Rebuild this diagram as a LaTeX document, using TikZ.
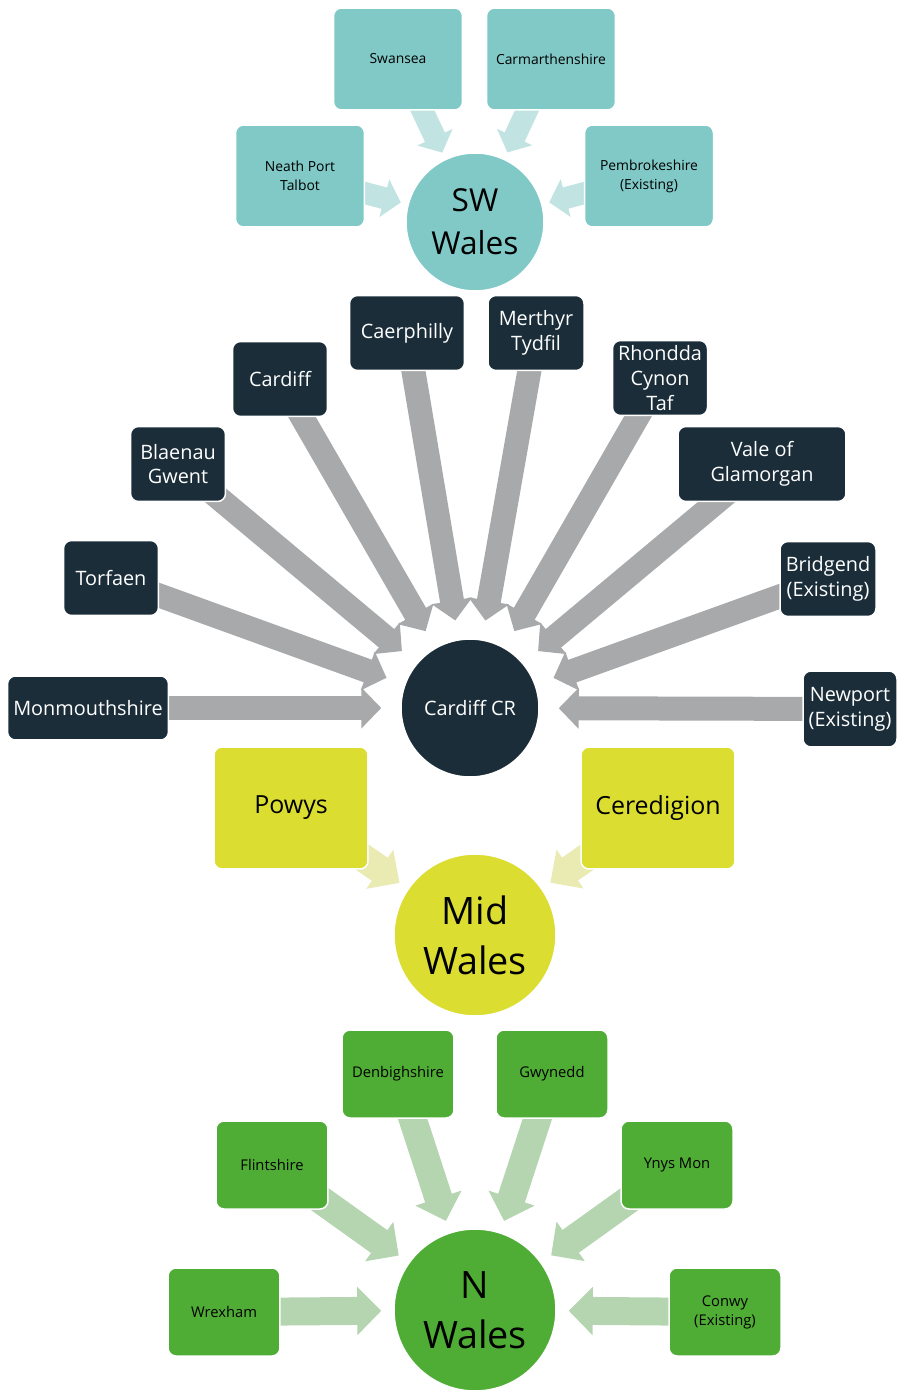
\documentclass[tikz,border=0pt]{standalone}
\usepackage{fontspec}
\setmainfont{Open Sans}
\usetikzlibrary{arrows.meta, backgrounds}
\definecolor{swteal}{RGB}{128,201,199}
\definecolor{swpale}{RGB}{193,227,226}
\definecolor{crnavy}{RGB}{26,45,57}
\definecolor{crgrey}{RGB}{168,169,171}
\definecolor{midlime}{RGB}{220,221,49}
\definecolor{midpale}{RGB}{234,235,179}
\definecolor{ngreen}{RGB}{79,173,53}
\definecolor{npale}{RGB}{180,213,176}
\tikzset{
x=0.02cm, y=-0.02cm, % one unit is one pixel of the sketch, y runs down
box/.style={rectangle, rounded corners=0.16cm, draw=white, line width=0.03cm, align=center, inner sep=0pt}, % every county
hub/.style={circle, draw=white, line width=0.03cm, align=center, inner sep=0pt}, % every region
swbox/.style={box, fill=swteal, minimum width=2.58cm, minimum height=2.04cm, font=\fontsize{7.9}{10.8}\selectfont},
crbox/.style={box, fill=crnavy, text=white, minimum width=1.9cm, minimum height=1.5cm, font=\fontsize{11.3}{14}\selectfont},
midbox/.style={box, fill=midlime, minimum width=3.08cm, minimum height=2.44cm, font=\fontsize{14.2}{18}\selectfont},
nbox/.style={box, fill=ngreen, minimum width=2.24cm, minimum height=1.76cm, font=\fontsize{8.4}{10.8}\selectfont},
swarrow/.style={swpale, line width=0.44cm, -{Triangle[length=0.34cm, width=0.76cm]}, shorten >=0.14cm},
crarrow/.style={crgrey, line width=0.48cm, -{Triangle[length=0.4cm, width=0.8cm]}, shorten >=0.38cm},
midarrow/.style={midpale, line width=0.56cm, -{Triangle[length=0.48cm, width=0.92cm]}, shorten >=0.2cm},
narrow/.style={npale, line width=0.56cm, -{Triangle[length=0.48cm, width=0.94cm]}, shorten >=0.24cm},
}

\begin{document}
\begin{tikzpicture}
  \useasboundingbox (0,0) rectangle (897,1391);

  % south west
  \node[hub, fill=swteal, minimum size=2.76cm, font=\fontsize{18}{24.4}\selectfont] (sw) at (475,222) {SW\\Wales};
  \node[swbox] (swan) at (398,59) {Swansea};
  \node[swbox] (carm) at (551,59) {Carmarthenshire};
  \node[swbox] (npt) at (300,176) {Neath Port\\Talbot};
  \node[swbox] (pemb) at (649,176) {Pembrokeshire\\(Existing)};

  % cardiff capital region
  \node[hub, fill=crnavy, text=white, minimum size=2.76cm, font=\fontsize{11.3}{14}\selectfont] (cr) at (470,708) {Cardiff CR};
  \node[crbox, minimum width=2.3cm] (caer) at (407,333) {Caerphilly};
  \node[crbox, minimum width=1.92cm] (mert) at (536,333) {Merthyr\\Tydfil};
  \node[crbox] (card) at (280,379) {Cardiff};
  \node[crbox] (rct) at (660,378) {Rhondda\\Cynon\\Taf};
  \node[crbox] (blae) at (178,464) {Blaenau\\Gwent};
  \node[crbox, minimum width=3.36cm] (vale) at (762,464) {Vale of\\Glamorgan};
  \node[crbox] (torf) at (111,578) {Torfaen};
  \node[crbox, minimum width=1.92cm] (brid) at (828,579) {Bridgend\\(Existing)};
  \node[crbox, minimum width=3.22cm, minimum height=1.28cm] (monm) at (88,708) {Monmouthshire};
  \node[crbox, minimum width=1.88cm, minimum height=1.52cm] (newp) at (850,709) {Newport\\(Existing)};

  % mid
  \node[hub, fill=midlime, minimum size=3.24cm, font=\fontsize{21.5}{28.4}\selectfont] (mid) at (475,935) {Mid\\Wales};
  \node[midbox] (powy) at (291,808) {Powys};
  \node[midbox] (cere) at (658,808) {Ceredigion};

  % north
  \node[hub, fill=ngreen, minimum size=3.24cm, font=\fontsize{21.5}{28.4}\selectfont] (nw) at (475,1310) {N\\Wales};
  \node[nbox] (denb) at (398,1074) {Denbighshire};
  \node[nbox] (gwyn) at (552,1074) {Gwynedd};
  \node[nbox] (flin) at (272,1165) {Flintshire};
  \node[nbox] (ynys) at (677,1165) {Ynys Mon};
  \node[nbox] (wrex) at (224,1312) {Wrexham};
  \node[nbox] (conw) at (725,1312) {Conwy\\(Existing)};

  \begin{scope}[on background layer]
    \foreach \c in {swan, carm, npt, pemb}
      \draw[swarrow] (\c.center) -- (sw);
    \foreach \c in {caer, mert, card, rct, blae, vale, torf, brid, monm, newp}
      \draw[crarrow] (\c.center) -- (cr);
    \foreach \c in {powy, cere}
      \draw[midarrow] (\c.center) -- (mid);
    \foreach \c in {denb, gwyn, flin, ynys, wrex, conw}
      \draw[narrow] (\c.center) -- (nw);
  \end{scope}
\end{tikzpicture}
\end{document}
